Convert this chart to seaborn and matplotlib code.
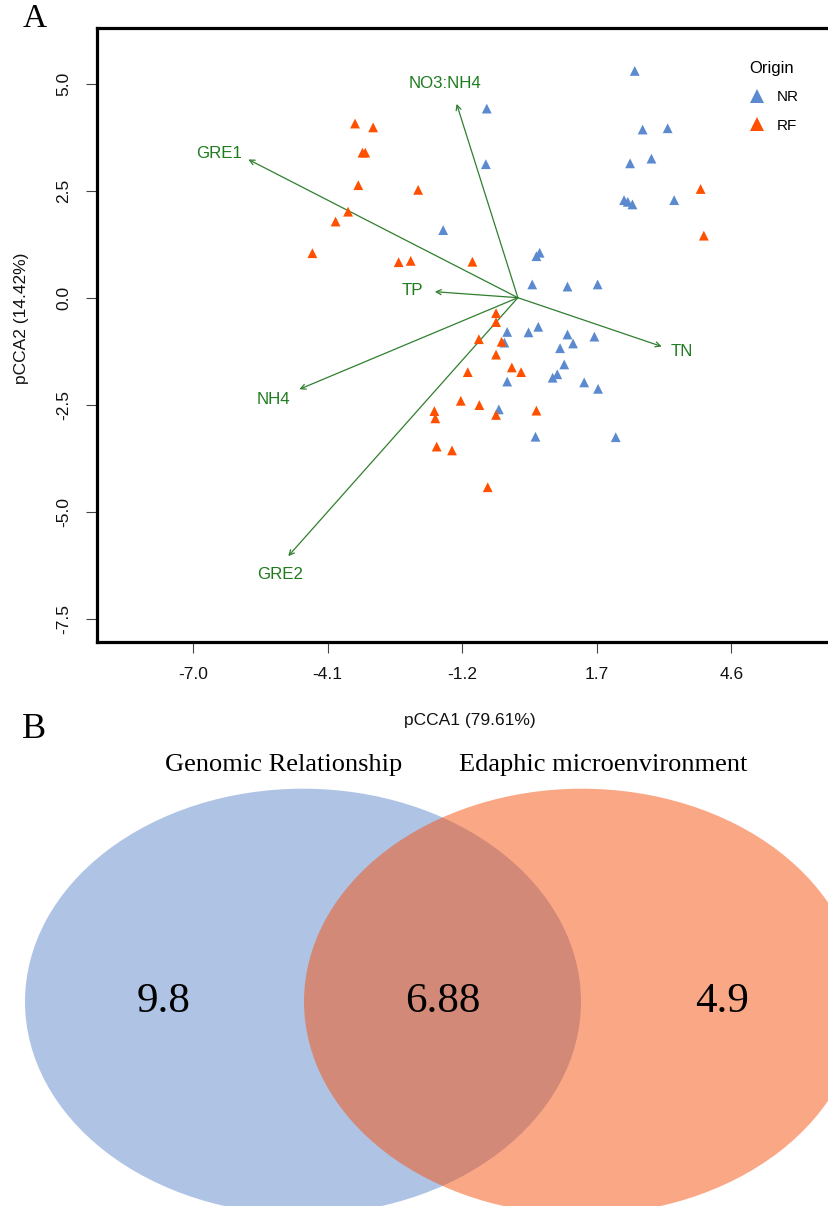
import numpy as np
import pandas as pd
import matplotlib
matplotlib.use("Agg")
import matplotlib.pyplot as plt
from matplotlib.patches import Ellipse
from matplotlib.lines import Line2D
import seaborn as sns

# ---------------- data ----------------
nr_x = [2.52, -0.67, 2.69, 3.23, -0.69, 2.42, 2.88, 2.29, 2.37, 2.47, 3.37, -1.61,
        0.40, 0.47, 0.31, 1.07, 1.72, -0.23, 0.23, 0.44, -0.29, 1.07, 1.19, 1.65,
        0.91, 1.00, 0.75, 0.85, 1.43, 1.73, -0.23, -0.41, 0.38, 2.11]
nr_y = [5.30, 4.42, 3.93, 3.96, 3.12, 3.14, 3.25, 2.28, 2.24, 2.18, 2.28, 1.58,
        0.97, 1.05, 0.31, 0.26, 0.31, -0.80, -0.81, -0.68, -1.05, -0.86, -1.07, -0.91,
        -1.18, -1.56, -1.87, -1.79, -1.98, -2.13, -1.96, -2.61, -3.25, -3.26]
rf_x = [-3.51, -3.12, -3.35, -3.29, -3.44, -2.15, -3.66, -3.93, -4.43, -2.57, -2.31,
        -0.98, 3.94, 4.01, -0.47, -0.47, -0.84, -0.35, -0.47, -0.13, 0.07, -1.08,
        -1.23, -0.83, -0.47, 0.40, -1.80, -1.78, -1.75, -1.42, -0.65]
rf_y = [4.07, 3.98, 3.39, 3.39, 2.63, 2.52, 2.01, 1.78, 1.04, 0.83, 0.86,
        0.84, 2.54, 1.45, -0.36, -0.57, -0.97, -1.03, -1.33, -1.63, -1.74, -1.74,
        -2.41, -2.51, -2.74, -2.64, -2.65, -2.82, -3.48, -3.57, -4.43]

vec_names = ["GRE1", "NO3:NH4", "TP", "TN", "NH4", "GRE2"]
vec_x = [-5.81, -1.32, -1.79, 3.10, -4.71, -4.95]
vec_y = [3.23, 4.53, 0.14, -1.14, -2.14, -6.04]
lab_x = [-6.44, -1.56, -2.27, 3.54, -5.28, -5.13]
lab_y = [3.37, 5.01, 0.16, -1.26, -2.39, -6.46]

x_ticks = [-7.0, -4.1, -1.2, 1.7, 4.6]
y_ticks = [5.0, 2.5, 0.0, -2.5, -5.0, -7.5]

venn_sets = ["Genomic Relationship", "Edaphic microenvironment"]
venn_values = [9.8, 6.88, 4.9]  # only A, shared, only B

origin_levels = ["NR", "RF"]
palette = {"NR": "#5B8AD0", "RF": "#FF5000"}

df = pd.DataFrame({
    "pCCA1": nr_x + rf_x,
    "pCCA2": nr_y + rf_y,
    "Origin": ["NR"] * len(nr_x) + ["RF"] * len(rf_x),
})

# ---------------- figure ----------------
W, H = 829, 1206
fig = plt.figure(figsize=(W / 100, H / 100), dpi=100)
plt.rcParams["font.family"] = ["Liberation Sans", "DejaVu Sans"]

left_px, right_px, top_px, bot_px = 96.7, 843.0, 27.7, 641.7
ax = fig.add_axes([left_px / W, 1 - bot_px / H, (right_px - left_px) / W, (bot_px - top_px) / H])

sns.scatterplot(data=df, x="pCCA1", y="pCCA2", hue="Origin", hue_order=origin_levels,
                palette=palette, marker="^", s=50, linewidth=0, legend=False, ax=ax, zorder=3)

arrow_col = "#2F7F2F"
for name, vx, vy, lx, ly in zip(vec_names, vec_x, vec_y, lab_x, lab_y):
    ax.annotate("", xy=(vx, vy), xytext=(0, 0),
                arrowprops=dict(arrowstyle="->", color=arrow_col, lw=0.9,
                                shrinkA=0, shrinkB=0, mutation_scale=9), zorder=2)
    ax.text(lx, ly, name, color="#1E7B1E", fontsize=12.2, ha="center", va="center", zorder=4)

ax.set_xlim(-9.08, 7.01)
ax.set_ylim(-8.04, 6.31)
ax.set_xticks(x_ticks)
ax.set_xticklabels([f"{t:.1f}" for t in x_ticks])
ax.set_yticks(y_ticks)
ax.set_yticklabels([f"{t:.1f}" for t in y_ticks], rotation=90, va="center")
ax.tick_params(axis="both", direction="out", length=8, width=0.8, color="#444444",
               labelsize=12.5, pad=10.5, labelcolor="#111111")
for sp in ax.spines.values():
    sp.set_linewidth(2.3)
    sp.set_color("black")

ax.set_xlabel("pCCA1 (79.61%)", fontsize=12.5, color="#111111")
ax.set_ylabel("pCCA2 (14.42%)", fontsize=12.5, color="#111111")
ax.xaxis.set_label_coords(0.5, (bot_px - 721) / (bot_px - top_px))
ax.xaxis.label.set_va("center")
ax.yaxis.set_label_coords((21.7 - left_px) / (right_px - left_px), (bot_px - 318) / (bot_px - top_px))
ax.yaxis.label.set_va("center")

handles = [Line2D([0], [0], marker="^", linestyle="", markersize=10,
                  markerfacecolor=palette[o], markeredgewidth=0) for o in origin_levels]
leg = ax.legend(handles, origin_levels, title="Origin", frameon=False,
                loc="upper left", bbox_to_anchor=(742 / W, 1 - 53 / H),
                bbox_transform=fig.transFigure, fontsize=11, title_fontsize=12,
                handlelength=1.0, handletextpad=0.8, labelspacing=0.95, borderpad=0,
                alignment="left")

fig.text(35 / W, 1 - 19 / H, "A", fontsize=24, family=["Liberation Serif"], ha="center", va="center")

# ---------------- Venn ----------------
ax2 = fig.add_axes([0, 0, 1, (H - 690) / H])
ax2.set_xlim(0, W)
ax2.set_ylim(H, 690)
ax2.axis("off")
cy = 1001.7
ax2.add_patch(Ellipse((303, cy), 556, 426, facecolor="#6189CD", alpha=0.5, edgecolor="none"))
ax2.add_patch(Ellipse((582, cy), 556, 426, facecolor="#F7510D", alpha=0.5, edgecolor="none"))
serif = ["Liberation Serif", "DejaVu Serif"]
for xpos, v in zip([164, 443, 722], venn_values):
    ax2.text(xpos, cy, f"{v:g}", fontsize=31, family=serif, ha="center", va="center")
ax2.text(283.5, 765, venn_sets[0], fontsize=19, family=serif, ha="center", va="center")
ax2.text(603, 765, venn_sets[1], fontsize=19, family=serif, ha="center", va="center")
fig.text(34.5 / W, 1 - 730 / H, "B", fontsize=26, family=serif, ha="center", va="center")

fig.savefig("out.png", dpi=100)
